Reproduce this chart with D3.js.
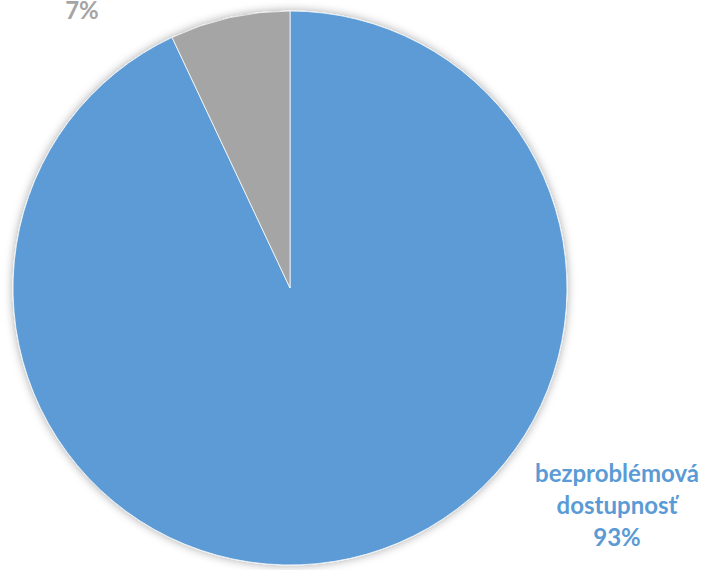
<!DOCTYPE html>
<html>
<head>
<meta charset="utf-8">
<script src="https://cdn.jsdelivr.net/npm/d3@7"></script>
<style>
  html, body { margin: 0; padding: 0; background: #fff; }
  svg { display: block; }
</style>
</head>
<body>
<script>
const categories = ["bezproblémová dostupnosť", "problémová dostupnosť"];
const values = [93, 7];
const colors = ["#5B9BD5", "#A5A5A5"];
const labelLines = [["bezproblémová", "dostupnosť", "93%"], ["7%"]];

const W = 708, H = 570;
const cx = 290, cy = 288, R = 277;

const svg = d3.select("body").append("svg").attr("width", W).attr("height", H);

const defs = svg.append("defs");
const f = defs.append("filter").attr("id", "shadow").attr("x", "-10%").attr("y", "-10%").attr("width", "120%").attr("height", "120%");
f.append("feDropShadow").attr("dx", 0).attr("dy", 0).attr("stdDeviation", 5)
  .attr("flood-color", "#000").attr("flood-opacity", 0.35);

const data = categories.map((c, i) => ({ name: c, value: values[i], color: colors[i], lines: labelLines[i] }));

const pie = d3.pie().sort(null).value(d => d.value).startAngle(0).endAngle(2 * Math.PI);
const arc = d3.arc().innerRadius(0).outerRadius(R);

const g = svg.append("g").attr("transform", `translate(${cx},${cy})`);
g.append("g").attr("filter", "url(#shadow)")
  .selectAll("path").data(pie(data)).join("path")
  .attr("d", arc)
  .attr("fill", d => d.data.color)
  .attr("stroke", "#fff").attr("stroke-width", 0.75);

// labels
const labelPos = [[617, 482], [82, 19]];
const lineH = 32;
const lbl = svg.append("g");
data.forEach((d, i) => {
  const t = lbl.append("text")
    .attr("x", labelPos[i][0]).attr("y", labelPos[i][1])
    .attr("text-anchor", "middle")
    .attr("font-family", "Lato, 'Open Sans', sans-serif")
    .attr("font-weight", "bold")
    .attr("font-size", 24)
    .attr("fill", d.color);
  d.lines.forEach((l, j) => {
    t.append("tspan").attr("x", labelPos[i][0]).attr("dy", j === 0 ? 0 : lineH).text(l);
  });
});
</script>
</body>
</html>
